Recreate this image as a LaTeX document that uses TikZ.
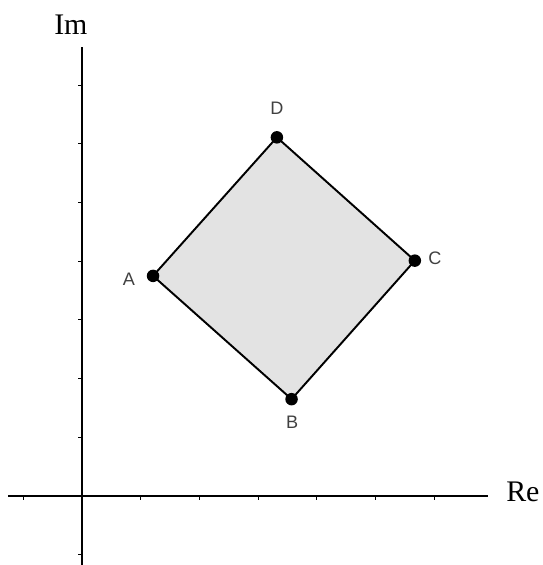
\documentclass[tikz,border=0pt]{standalone}
\usepackage{fontspec}
\setmainfont{Liberation Serif}
\newfontfamily\ptfont{Liberation Sans}
\tikzset{
  axis/.style={line width=0.65pt},
  tick/.style={line width=0.5pt},
  side/.style={line width=1.1pt},
  area/.style={fill=black!11},
  pt/.style={circle,fill=black,inner sep=0pt,minimum size=2.5mm},
  ptlabel/.style={font=\ptfont\fontsize{10.3}{12}\selectfont,text=black!75},
  axlabel/.style={font=\fontsize{17}{20}\selectfont}
}

\begin{document}
\begin{tikzpicture}[x=1.174cm,y=1.174cm]
\useasboundingbox (-1.397,-1.175) rectangle (7.853,8.450);
% axes
\coordinate (xl) at (-1.26,0);
\coordinate (xr) at (6.92,0);
\coordinate (yb) at (0,-1.175);
\coordinate (yt) at (0,7.65);
\draw[axis] (xl) -- (xr);
\draw[axis] (yb) -- (yt);
\foreach \i in {-1,1,2,...,6} \draw[tick] (\i,0) -- (\i,-0.06);
\foreach \i in {-1,1,2,...,7} \draw[tick] (0,\i) -- (-0.06,\i);
\node[axlabel] (re) at (7.51,0.07) {Re};
\node[axlabel] (im) at (-0.19,8.03) {Im};
% square ABCD
\coordinate (a) at (1.21,3.75);
\coordinate (b) at (3.57,1.65);
\coordinate (c) at (5.67,4.01);
\coordinate (d) at (3.32,6.11);
\filldraw[area,side] (a) -- (b) -- (c) -- (d) -- cycle;
\node[pt] (A) at (a) {};
\node[pt] (B) at (b) {};
\node[pt] (C) at (c) {};
\node[pt] (D) at (d) {};
\node[ptlabel] (la) at (0.80,3.70) {A};
\node[ptlabel] (lb) at (3.58,1.26) {B};
\node[ptlabel] (lc) at (6.01,4.05) {C};
\node[ptlabel] (ld) at (3.32,6.61) {D};
\end{tikzpicture}
\end{document}
